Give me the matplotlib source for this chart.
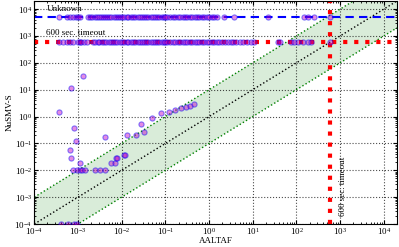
import matplotlib
matplotlib.use("Agg")
import matplotlib.pyplot as plt
import numpy as np

plt.rcParams['font.family'] = ['Liberation Serif', 'DejaVu Serif']
plt.rcParams['mathtext.fontset'] = 'stix'

UNKNOWN = 5000
TIMEOUT = 600

# instances that finished for both tools (AALTAF time, NuSMV-S time)
solved_x = [3.7e-4, 6.8e-4, 1.3e-3, 7.9e-4, 9.0e-4, 6.6e-4, 7.0e-4, 1.1e-3,
            4.1e-3, 5.8e-3, 7.0e-3, 7.5e-3, 8.0e-3, 0.011, 0.0118, 0.013,
            0.021, 0.032, 0.028, 0.05, 0.079, 0.122, 0.167, 0.23, 0.30,
            0.37, 0.45,
            7.7e-4, 9.6e-4, 1.14e-3, 1.25e-3, 1.41e-3, 2.5e-3, 3.2e-3, 4.2e-3,
            4.1e-4, 5.9e-4, 8.1e-4, 9.6e-4]
solved_y = [1.5, 11.6, 32, 0.38, 0.12, 0.055, 0.028, 0.019,
            0.18, 0.019, 0.019, 0.028, 0.028, 0.037, 0.037, 0.21,
            0.2, 0.27, 0.54, 0.9, 1.32, 1.5, 1.8, 2.0, 2.3,
            2.55, 3.0,
            0.01, 0.01, 0.01, 0.01, 0.01, 0.01, 0.01, 0.01,
            1e-4, 1e-4, 1e-4, 1e-4]

# AALTAF times of instances NuSMV-S reported as unknown
unknown_x = [3.7e-4, 5.5e-4, 6.5e-4, 7.5e-4, 9.0e-4, 1.0e-3, 1.1e-3, 1.7e-3,
             1.9e-3, 2.1e-3, 2.4e-3, 2.7e-3, 3.0e-3, 3.3e-3, 3.7e-3, 4.1e-3,
             4.6e-3, 5.2e-3, 5.8e-3, 6.5e-3, 7.3e-3, 8.2e-3, 9.1e-3, 0.010,
             0.011, 0.013, 0.014, 0.016, 0.018, 0.020, 0.023, 0.026, 0.029,
             0.032, 0.036, 0.041, 0.046, 0.052, 0.058, 0.065, 0.073, 0.082,
             0.091, 0.10, 0.11, 0.13, 0.15, 0.17, 0.19, 0.22, 0.25, 0.28,
             0.32, 0.36, 0.41, 0.47, 0.53, 0.60, 0.68, 0.77, 0.88, 1.0, 1.15,
             1.3, 1.5, 2.2, 3.7, 22, 150, 180, 250, 600]

# AALTAF times of instances where NuSMV-S timed out
timeout_x = [3.7e-4, 4.5e-4, 5.5e-4, 6.5e-4, 7.5e-4, 1.0e-3, 1.1e-3, 1.2e-3,
             1.4e-3, 1.6e-3, 2.2e-3, 2.5e-3, 2.8e-3, 3.1e-3, 3.5e-3, 3.9e-3,
             4.4e-3, 5.0e-3, 5.6e-3, 6.3e-3, 7.1e-3, 8.0e-3, 9.0e-3, 0.010,
             0.011, 0.013, 0.014, 0.016, 0.018, 0.020, 0.023, 0.026, 0.029,
             0.032, 0.036, 0.041, 0.046, 0.052, 0.058, 0.065, 0.073, 0.082,
             0.091, 0.10, 0.11, 0.13, 0.15, 0.17, 0.19, 0.22, 0.25, 0.28,
             0.32, 0.36, 0.41, 0.47, 0.53, 0.60, 0.68, 0.77, 0.88, 1.0, 1.15,
             1.3, 1.5, 1.7, 2.0, 2.3, 2.7, 3.1, 3.6, 4.2, 5.0, 6.0, 7.5, 9.0,
             10.7, 38, 42, 75, 90, 110, 140, 180, 214, 600]

lo, hi = 1e-4, 2e4

fig = plt.figure(figsize=(3.99, 2.47), dpi=100)
ax = fig.add_axes([0.086, 0.093, 0.909, 0.903])
ax.set_xscale('log')
ax.set_yscale('log')
ax.set_xlim(lo, hi)
ax.set_ylim(lo, hi)

diag = np.array([lo, hi])
ax.fill_between(diag, diag / 10, diag * 10, color='green', alpha=0.15, lw=0)
ax.plot(diag, diag * 10, ':', color='green', lw=1)
ax.plot(diag, diag / 10, ':', color='green', lw=1)
ax.plot(diag, diag, ':', color='black', lw=1)

ax.grid(True, which='major', ls=':', color='black', lw=0.8, alpha=0.7)

ax.axhline(UNKNOWN, color='blue', ls='--', lw=1.5, dashes=(4, 2.5))
ax.axhline(TIMEOUT, color='red', ls=':', lw=3)
ax.axvline(TIMEOUT, color='red', ls=':', lw=3)

pts = dict(s=14, c='m', edgecolors='b', alpha=0.45, lw=0.8, zorder=3)
ax.scatter(solved_x, solved_y, **pts)
ax.scatter(unknown_x, [UNKNOWN] * len(unknown_x), **pts)
ax.scatter(timeout_x, [TIMEOUT] * len(timeout_x), **pts)

ax.text(1.9e-4, 7000, 'Unknown', fontsize=6.5, va='bottom')
ax.text(1.9e-4, 900, '600 sec. timeout', fontsize=6.5, va='bottom')
ax.text(950, 2e-4, '600 sec. timeout', fontsize=6.5, rotation=90, va='bottom', ha='left')

ax.set_xlabel('AALTAF', fontsize=6.5, labelpad=0)
ax.set_ylabel('NuSMV-S', fontsize=6.5, labelpad=0.5)
ax.tick_params(which='both', direction='in', top=True, right=True, labelsize=6.5, pad=1.5)
ax.tick_params(which='major', length=3)
ax.tick_params(which='minor', length=1.5)

fig.savefig('out.png', dpi=100)
